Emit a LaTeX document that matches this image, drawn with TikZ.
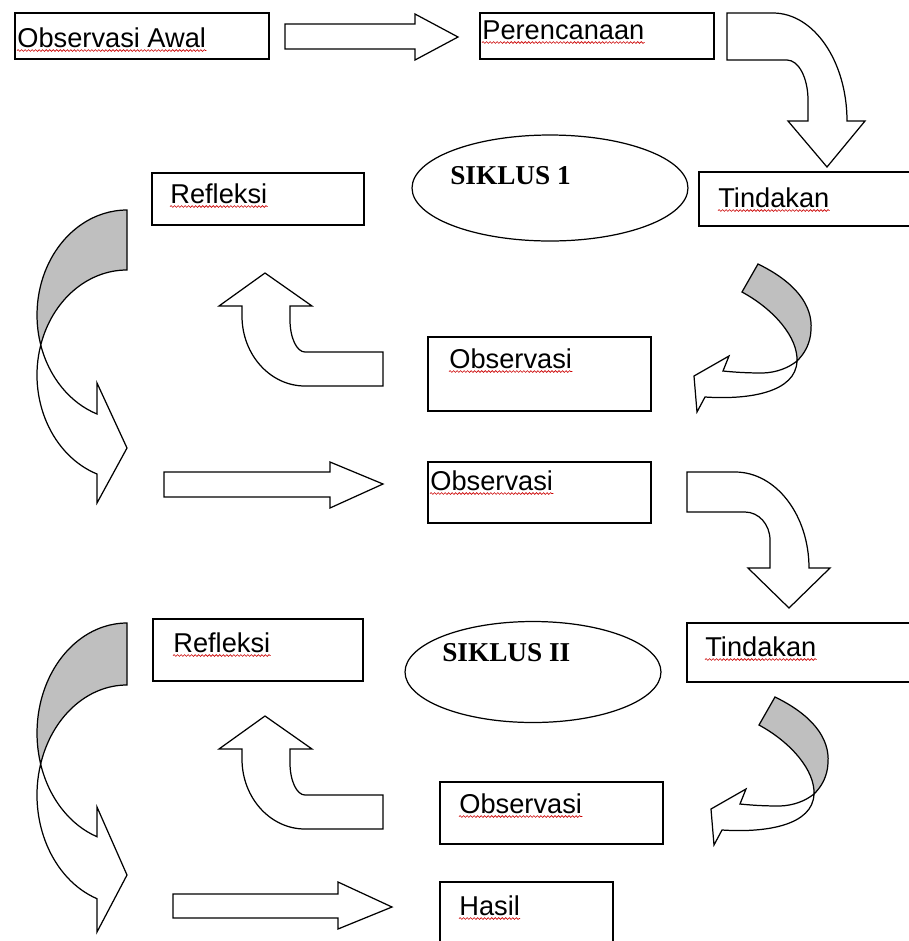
\documentclass[tikz,border=0pt]{standalone}
\usepackage{fontspec}
\setmainfont{Liberation Sans}
\newfontfamily\siklusfont{Liberation Serif}
\usetikzlibrary{fit,shapes.geometric,decorations.pathmorphing}
\tikzset{
  box/.style={draw, line width=1.1pt, inner sep=0pt},
  oval/.style={draw, ellipse, line width=0.7pt, inner sep=0pt},
  word/.style={inner sep=0pt, anchor=base west, font=\fontsize{15.5}{18}\selectfont},
  siklus/.style={inner sep=0pt, anchor=base west, font=\siklusfont\bfseries\fontsize{15.5}{18}\selectfont},
  blok/.style={draw, line width=0.7pt, fill=white, line join=miter},
  bayang/.style={blok, fill=black!25},
  squiggle/.style={red!80!black, line width=0.35pt, decorate,
    decoration={snake, amplitude=0.5pt, segment length=2pt}}
}
\begin{document}
\begin{tikzpicture}[x=0.02cm, y=-0.02cm]
  \clip (0,0) rectangle (909,941);
  \fill[white] (0,0) rectangle (909,941);
  % kotak
  \node[box, fit={(15,13) (269,59)}] (awal) {};
  \node[box, fit={(480,13) (714,59)}] (rencana) {};
  \node[box, fit={(699,172) (920,226)}] (tindakan1) {};
  \node[box, fit={(152,173) (364,225)}] (refleksi1) {};
  \node[box, fit={(428,337) (651,411)}] (obs1) {};
  \node[box, fit={(428,462) (651,523)}] (obs2) {};
  \node[box, fit={(153,619) (363,681)}] (refleksi2) {};
  \node[box, fit={(687,623) (920,682)}] (tindakan2) {};
  \node[box, fit={(440,782) (663,844)}] (obs3) {};
  \node[box, fit={(440,882) (613,960)}] (hasil) {};
  \node[oval, minimum width=5.52cm, minimum height=2.12cm] (siklus1) at (550,188) {};
  \node[oval, minimum width=5.12cm, minimum height=2.02cm] (siklus2) at (533,672) {};
  % teks
  \node[word] (awalt) at (17,47) {Observasi Awal};
  \node[word] (rencanat) at (482,39) {Perencanaan};
  \node[word] (tindakan1t) at (718,207) {Tindakan};
  \node[word] (refleksi1t) at (170,203) {Refleksi};
  \node[word] (obs1t) at (449,368) {Observasi};
  \node[word] (obs2t) at (430,490) {Observasi};
  \node[word] (refleksi2t) at (173,652) {Refleksi};
  \node[word] (tindakan2t) at (705,656) {Tindakan};
  \node[word] (obs3t) at (459,813) {Observasi};
  \node[word] (hasilt) at (459,915) {Hasil};
  \node[siklus] (siklus1t) at (450,184) {SIKLUS 1};
  \node[siklus] (siklus2t) at (442,661) {SIKLUS II};
  \foreach \t in {awalt,rencanat,tindakan1t,refleksi1t,obs1t,obs2t,refleksi2t,tindakan2t,obs3t,hasilt}
    \draw[squiggle] ([yshift=-2pt]\t.base west) -- ([yshift=-2pt]\t.base east);
  % panah lurus
  \draw[blok] (285,24) -- (415,24) -- (415,14) -- (458,37) -- (415,60) -- (415,49) -- (285,49) -- cycle;
  \draw[blok] (164,472) -- (330,472) -- (330,462) -- (383,484) -- (330,508) -- (330,497) -- (164,497) -- cycle;
  \draw[blok] (173,894) -- (338,894) -- (338,882) -- (392,907) -- (338,929) -- (338,918) -- (173,918) -- cycle;
  % panah belok ke bawah
  \draw[blok] (727,13) -- (773,13) arc[start angle=270, end angle=360, x radius=74, y radius=108]
    -- (865,121) -- (827,167) -- (788,121) -- (808,121) -- (808,100)
    arc[start angle=0, end angle=-90, x radius=21, y radius=40] -- (727,60) -- cycle;
  \draw[blok] (687,472) -- (735,472) arc[start angle=270, end angle=360, x radius=74, y radius=96]
    -- (830,568) -- (789,608) -- (748,568) -- (770,568) -- (770,540)
    arc[start angle=0, end angle=-90, x radius=25, y radius=28] -- (687,512) -- cycle;
  % panah belok ke atas
  \draw[blok] (383,352) -- (305,352) arc[start angle=90, end angle=180, x radius=15, y radius=32]
    -- (290,306) -- (312,306) -- (265,273) -- (219,306) -- (242,306) -- (242,316)
    arc[start angle=180, end angle=90, x radius=63, y radius=70] -- (383,386) -- cycle;
  \draw[blok] (383,795) -- (305,795) arc[start angle=90, end angle=180, x radius=15, y radius=32]
    -- (290,749) -- (312,749) -- (265,716) -- (219,749) -- (242,749) -- (242,759)
    arc[start angle=180, end angle=90, x radius=63, y radius=70] -- (383,829) -- cycle;
  % panah lengkung kiri
  \draw[bayang] (127,210) arc[start angle=270, end angle=163.40, x radius=90, y radius=105]
    arc[start angle=196.60, end angle=270, x radius=90, y radius=105] -- cycle;
  \draw[blok] (40.75,345) arc[start angle=163.40, end angle=109.47, x radius=90, y radius=105]
    -- (97,383) -- (127,448) -- (97,503) -- (97,474)
    arc[start angle=109.47, end angle=196.60, x radius=90, y radius=105] -- cycle;
  \draw[bayang] (127,623) arc[start angle=270, end angle=163.63, x radius=90, y radius=110]
    arc[start angle=196.37, end angle=270, x radius=90, y radius=110] -- cycle;
  \draw[blok] (40.64,764) arc[start angle=163.63, end angle=109.47, x radius=90, y radius=110]
    -- (97,807) -- (127,875) -- (97,932) -- (97,898.7)
    arc[start angle=109.47, end angle=196.37, x radius=90, y radius=110] -- cycle;
  % panah lengkung kanan
  \foreach \dx/\dy in {0/0,17/433} {
    \begin{scope}[shift={(\dx,\dy)}]
      \draw[bayang] (758,264) .. controls (795,282) and (813,305) .. (811,330)
        .. controls (810.5,342.5) and (805.25,353) .. (797,361)
        .. controls (798,338) and (775,310) .. (742,292) -- cycle;
      \draw[blok] (797,361) .. controls (788.25,368) and (776.5,372.5) .. (763,373)
        .. controls (745,373) and (733,372) .. (723,371) -- (729,356) -- (694,376)
        -- (697,412) -- (705,397) .. controls (750,400) and (796,392) .. (797,361) -- cycle;
    \end{scope}
  }
\end{tikzpicture}
\end{document}
